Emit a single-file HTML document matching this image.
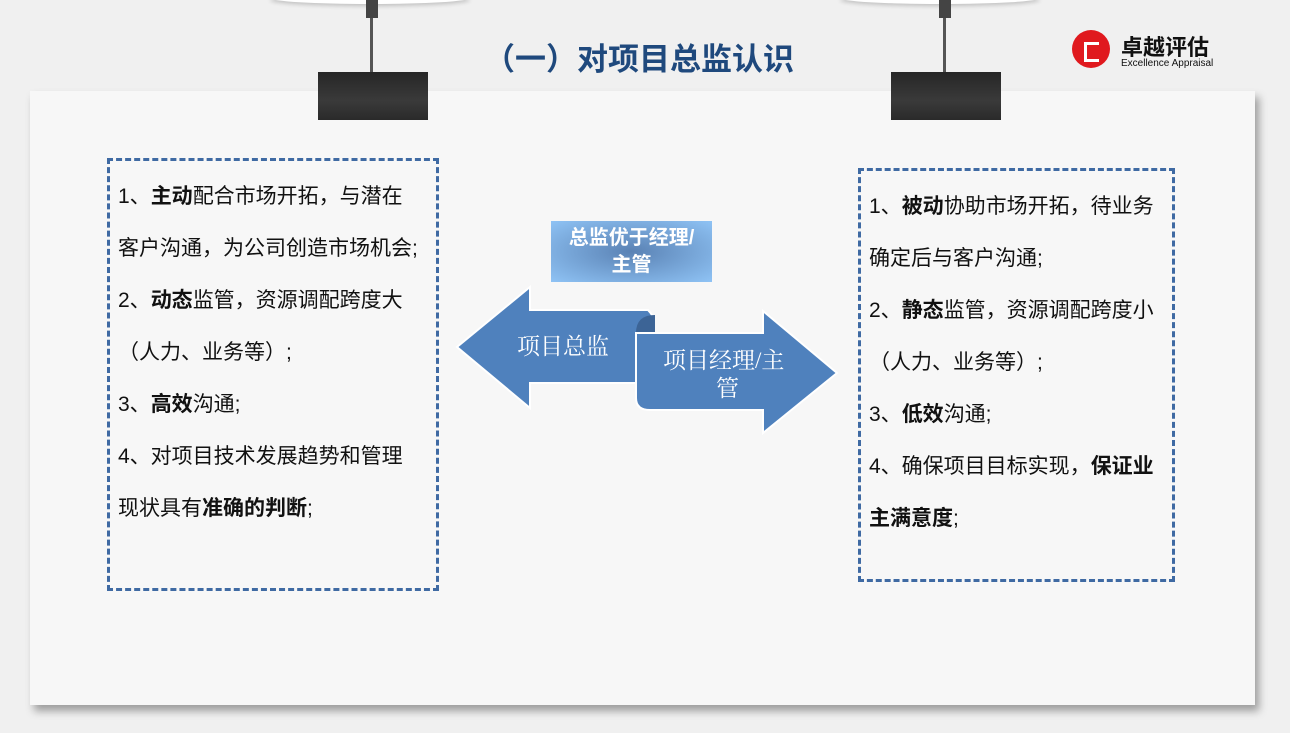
<!DOCTYPE html>
<html><head><meta charset="utf-8"><style>
body{margin:0;width:1290px;height:733px;background:#f0f0f0;position:relative;overflow:hidden;font-family:"Liberation Sans","Noto Sans CJK SC",sans-serif}
.panel{position:absolute;left:30px;top:91px;width:1225px;height:614px;background:#f7f7f7;box-shadow:4px 6px 8px rgba(0,0,0,.35)}
.box{position:absolute;border:3px dashed #3f6aa3;font-size:21px;line-height:52px;color:#111;padding:0 0 0 8px;box-sizing:border-box;white-space:nowrap}
.clip{position:absolute;width:110px;height:48px;background:linear-gradient(#262626,#3a3a3a 60%,#2a2a2a)}
.wire{position:absolute;width:3px;background:#555}
.cap{position:absolute;width:12px;height:18px;background:#444;top:0}
b{font-weight:bold}
</style></head><body>
<div class="panel"></div>
<div style="position:absolute;left:270px;top:-8px;width:200px;height:12px;border-radius:50%;background:#fff;box-shadow:0 2px 4px rgba(0,0,0,.2)"></div>
<div style="position:absolute;left:840px;top:-8px;width:200px;height:12px;border-radius:50%;background:#fff;box-shadow:0 2px 4px rgba(0,0,0,.2)"></div>
<div class="cap" style="left:366px"></div><div class="wire" style="left:370px;top:18px;height:55px"></div>
<div class="cap" style="left:939px"></div><div class="wire" style="left:943px;top:18px;height:55px"></div>
<div class="clip" style="left:318px;top:72px"></div>
<div class="clip" style="left:891px;top:72px"></div>
<div style="position:absolute;left:484px;top:34px;font-size:31px;font-weight:bold;color:#1f497d">（一）对项目总监认识</div>
<div style="position:absolute;left:1072px;top:30px;width:38px;height:38px;border-radius:50%;background:#e0191e"></div>
<div style="position:absolute;left:1084px;top:42px;width:12px;height:14px;border:3px solid #fff;border-right:none"></div>
<div style="position:absolute;left:1121px;top:30px;font-size:22px;font-weight:bold;color:#111">卓越评估</div>
<div style="position:absolute;left:1121px;top:58px;font-size:10px;color:#111">Excellence Appraisal</div>

<div class="box" style="left:107px;top:158px;width:332px;height:433px;padding-top:10px">1、<b>主动</b>配合市场开拓，与潜在<br>客户沟通，为公司创造市场机会;<br>2、<b>动态</b>监管，资源调配跨度大<br>（人力、业务等）;<br>3、<b>高效</b>沟通;<br>4、对项目技术发展趋势和管理<br>现状具有<b>准确的判断</b>;</div>
<div class="box" style="left:858px;top:168px;width:317px;height:414px;padding-top:10px">1、<b>被动</b>协助市场开拓，待业务<br>确定后与客户沟通;<br>2、<b>静态</b>监管，资源调配跨度小<br>（人力、业务等）;<br>3、<b>低效</b>沟通;<br>4、确保项目目标实现，<b>保证业<br>主满意度</b>;</div>

<div style="position:absolute;left:551px;top:221px;width:161px;height:61px;background:radial-gradient(ellipse at center,#5a82b4,#8fc3f5);color:#fff;font-weight:bold;font-size:20px;text-align:center;line-height:27px;padding-top:4px;box-sizing:border-box">总监优于经理/<br>主管</div>
<svg style="position:absolute;left:0;top:0" width="1290" height="733">
<path d="M457,347 L530,287 L530,310 L648,310 Q660,322 648,333 L636,333 L636,383 L530,383 L530,408 Z" fill="#4f81bd" stroke="#fff" stroke-width="2"/>
<path d="M636,333 Q636,315 655,315 L655,333 Z" fill="#3c6496"/>
<path d="M636,333 L763,333 L763,311 L837,373 L763,433 L763,410 L650,410 Q636,410 636,398 Z" fill="#4f81bd" stroke="#fff" stroke-width="2"/>
<text x="517" y="354" font-size="23" fill="#fff" font-family="Liberation Serif,Noto Serif CJK SC,serif">项目总监</text>
<text x="663" y="368" font-size="23" fill="#fff" font-family="Liberation Serif,Noto Serif CJK SC,serif">项目经理/主</text>
<text x="716" y="396" font-size="23" fill="#fff" font-family="Liberation Serif,Noto Serif CJK SC,serif">管</text>
</svg>
</body></html>
